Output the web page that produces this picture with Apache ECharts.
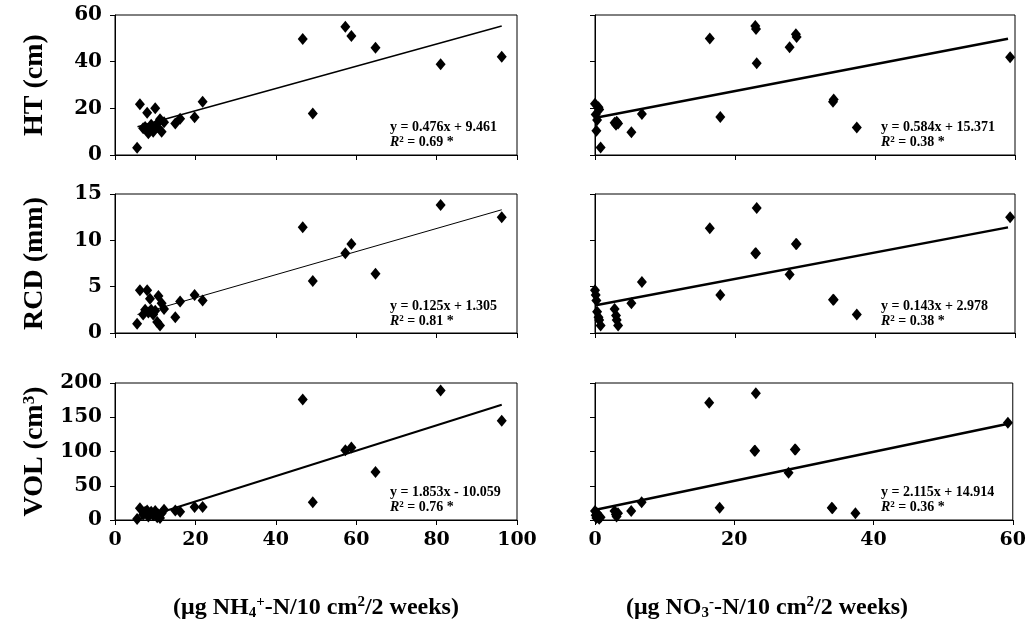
<!DOCTYPE html>
<html>
<head>
<meta charset="utf-8">
<script src="https://cdn.jsdelivr.net/npm/echarts@6.0.0/dist/echarts.min.js"></script>
<style>
  html, body { margin: 0; padding: 0; background: #fff; }
  #chart { width: 1029px; height: 629px; }
</style>
</head>
<body>
<div id="chart"></div>
<script>
// NH4+ deposition (left column), one value per site
const nh4X   = [5.5, 6.2, 7.0, 7.5, 8.0, 8.3, 8.7, 9.0, 9.5, 10.0, 10.5, 10.8, 11.2, 11.6, 12.2, 15.0, 16.2, 19.8, 21.8, 46.7, 49.2, 57.3, 58.8, 64.8, 81.0, 96.2];
const nh4Ht  = [3.1, 21.7, 11.5, 12.0, 18.1, 9.3, 11.0, 13.0, 10.0, 20.0, 12.0, 14.0, 15.3, 10.0, 14.0, 13.5, 15.5, 16.2, 22.8, 49.7, 17.8, 55.0, 51.0, 46.0, 38.9, 42.1];
const nh4Rcd = [1.0, 4.6, 2.0, 2.5, 4.6, 2.2, 3.7, 2.5, 2.0, 2.4, 1.2, 4.0, 0.8, 3.2, 2.6, 1.7, 3.4, 4.1, 3.5, 11.4, 5.6, 8.6, 9.6, 6.4, 13.8, 12.5];
const nh4Vol = [1.5, 17, 8, 12, 14, 5, 9, 12, 7, 13, 4, 8, 3, 10, 15, 14, 12, 19, 19, 176, 26, 102, 106, 70, 189, 145];

// NO3- deposition (right column)
const no3X   = [0.0, 0.1, 0.2, 0.3, 0.5, 0.6, 0.8, 2.8, 3.0, 3.1, 3.3, 5.2, 6.7, 16.4, 17.9, 22.9, 23.0, 23.1, 27.8, 28.7, 28.8, 34.0, 34.1, 37.4, 59.3];
const no3Ht  = [22.0, 17.4, 10.4, 15.0, 20.5, 19.5, 3.2, 13.8, 13.0, 14.2, 13.5, 9.8, 17.6, 49.9, 16.3, 55.3, 54.0, 39.3, 46.2, 51.7, 50.6, 22.8, 23.8, 11.8, 41.9];
const no3Rcd = [4.6, 4.1, 3.5, 2.3, 1.7, 1.4, 0.8, 2.6, 1.9, 1.4, 0.8, 3.2, 5.5, 11.3, 4.1, 8.6, 8.6, 13.5, 6.3, 9.6, 9.6, 3.6, 3.6, 2.0, 12.5];
const no3Vol = [13, 7, 3, 10, 5, 2, 4, 13, 8, 5, 10, 13, 26, 171, 18, 101, 101, 185, 69, 103, 103, 18, 17, 10, 142];

// regression line end points
const trendNh4Ht  = [[5.6, 12.1], [96.2, 55.3]];
const trendNh4Rcd = [[5.6, 2.0], [96.2, 13.3]];
const trendNh4Vol = [[5.6, 0.3], [96.2, 168.2]];
const trendNo3Ht  = [[0.1, 16.0], [59.0, 49.8]];
const trendNo3Rcd = [[0.1, 3.0], [59.0, 11.4]];
const trendNo3Vol = [[0.1, 15.1], [59.0, 139.7]];

// equation labels
const eqLines = [
  ['y = 0.476x + 9.461', '0.69 *'],
  ['y = 0.584x + 15.371', '0.38 *'],
  ['y = 0.125x + 1.305', '0.81 *'],
  ['y = 0.143x + 2.978', '0.38 *'],
  ['y = 1.853x - 10.059', '0.76 *'],
  ['y = 2.115x + 14.914', '0.36 *']
];

const yNames = ['HT (cm)', 'RCD (mm)', 'VOL (cm{sup|3})'];
const yMax = [60, 15, 200];
const yInterval = [20, 5, 50];
const xMax = [100, 60];
const xInterval = [20, 20];

const font = 'Liberation Serif';
const tickFont = 'DejaVu Serif';
const colLeft = [115, 595];
const colWidth = [402, 420];
const rowTop = [15, 194, 383];
const rowHeight = [140, 139, 137];

let myChart = echarts.init(document.getElementById('chart'));

let grids = [], xAxes = [], yAxes = [], series = [], graphics = [];

const pts = (xs, ys) => xs.map((x, i) => [x, ys[i]]);
const scatterData = [
  [pts(nh4X, nh4Ht), pts(no3X, no3Ht)],
  [pts(nh4X, nh4Rcd), pts(no3X, no3Rcd)],
  [pts(nh4X, nh4Vol), pts(no3X, no3Vol)]
];
const trends = [
  [trendNh4Ht, trendNo3Ht],
  [trendNh4Rcd, trendNo3Rcd],
  [trendNh4Vol, trendNo3Vol]
];
const trendWidth = [[1.5, 2.5], [1, 2.5], [2, 2.5]];

for (let r = 0; r < 3; r++) {
  for (let c = 0; c < 2; c++) {
    const idx = r * 2 + c;
    grids.push({
      left: colLeft[c], top: rowTop[r], width: colWidth[c], height: rowHeight[r],
      show: true, borderColor: '#000', borderWidth: 1, backgroundColor: 'transparent'
    });
    xAxes.push({
      gridIndex: idx, type: 'value', min: 0, max: xMax[c], interval: xInterval[c],
      axisLine: { show: true, lineStyle: { color: '#000', width: 1 } },
      axisTick: { show: true, inside: false, length: 5, lineStyle: { color: '#000' } },
      axisLabel: {
        show: r === 2, margin: 11, color: '#000',
        fontFamily: tickFont, fontWeight: 'bold', fontSize: 19
      },
      splitLine: { show: false }
    });
    yAxes.push({
      gridIndex: idx, type: 'value', min: 0, max: yMax[r], interval: yInterval[r],
      axisLine: { show: true, lineStyle: { color: '#000', width: 1 } },
      axisTick: { show: true, inside: false, length: 5, lineStyle: { color: '#000' } },
      axisLabel: {
        show: c === 0, margin: 13, color: '#000',
        fontFamily: tickFont, fontWeight: 'bold', fontSize: 20
      },
      splitLine: { show: false },
      name: c === 0 ? yNames[r] : '',
      nameLocation: 'middle',
      nameRotate: 90,
      nameGap: 66,
      nameTextStyle: {
        color: '#000', fontFamily: font, fontWeight: 'bold', fontSize: 28,
        rich: { sup: { fontFamily: font, fontWeight: 'bold', fontSize: 17, verticalAlign: 'top', color: '#000' } }
      }
    });
    series.push({
      type: 'scatter', xAxisIndex: idx, yAxisIndex: idx,
      symbol: 'diamond', symbolSize: [10, 12],
      itemStyle: { color: '#000', opacity: 1 },
      data: scatterData[r][c],
      silent: true
    });
    series.push({
      type: 'line', xAxisIndex: idx, yAxisIndex: idx,
      showSymbol: false, symbol: 'none',
      lineStyle: { color: '#000', width: trendWidth[r][c] },
      data: trends[r][c],
      silent: true
    });

    const eq = eqLines[idx];
    graphics.push({
      type: 'text',
      left: c === 0 ? 390 : 881,
      top: [120, 299, 485][r],
      style: {
        text: eq[0] + '\n{i|R}{sup|2} = ' + eq[1],
        fill: '#000',
        font: 'bold 14px "Liberation Serif"',
        lineHeight: 15,
        rich: {
          i: { fontStyle: 'italic', fontWeight: 'bold', fontSize: 14, fontFamily: font, lineHeight: 15 },
          sup: { fontWeight: 'bold', fontSize: 9, fontFamily: font, verticalAlign: 'top', lineHeight: 15 }
        }
      }
    });
  }
}

const subRich = {
  sub: { fontFamily: font, fontWeight: 'bold', fontSize: 15, color: '#000', verticalAlign: 'bottom', lineHeight: 26 },
  sup: { fontFamily: font, fontWeight: 'bold', fontSize: 15, color: '#000', verticalAlign: 'top', lineHeight: 26 }
};

let option = {
  animation: false,
  backgroundColor: '#fff',
  title: [
    {
      text: '(\u03bcg NH{sub|4}{sup|+}-N/10 cm{sup|2}/2 weeks)',
      left: 311, top: 590, textAlign: 'center',
      textStyle: { fontFamily: font, fontWeight: 'bold', fontSize: 24, color: '#000', lineHeight: 26, rich: subRich }
    },
    {
      text: '(\u03bcg NO{sub|3}{sup|-}-N/10 cm{sup|2}/2 weeks)',
      left: 762, top: 590, textAlign: 'center',
      textStyle: { fontFamily: font, fontWeight: 'bold', fontSize: 24, color: '#000', lineHeight: 26, rich: subRich }
    }
  ],
  grid: grids,
  xAxis: xAxes,
  yAxis: yAxes,
  series: series,
  graphic: graphics
};

myChart.setOption(option, true);
</script>
</body>
</html>
